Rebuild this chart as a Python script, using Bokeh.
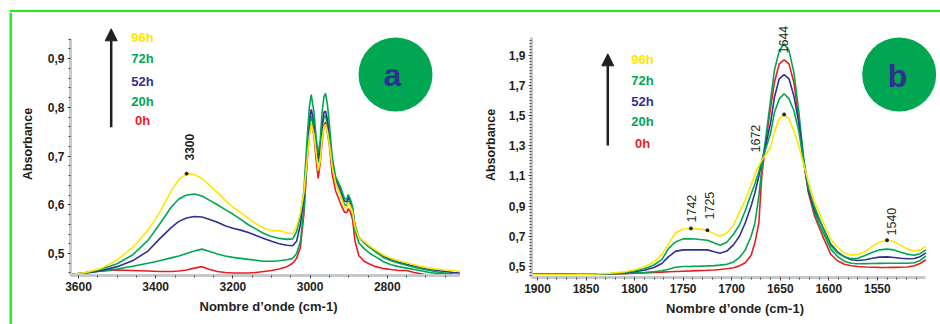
import numpy as np
from bokeh.plotting import figure
from bokeh.layouts import row, column
from bokeh.models import Range1d, FixedTicker, Label, Arrow, NormalHead, CustomJSTickFormatter
from bokeh.embed import file_html
from bokeh.resources import INLINE

# ---------------- data : panel a (3600-2600 cm-1) ----------------
wn_a = [3620, 3580, 3540, 3500, 3460, 3420, 3390, 3360, 3340, 3320, 3300, 3280, 3260, 3240, 3220,
        3200, 3180, 3160, 3140, 3120, 3100, 3080, 3060, 3045, 3035, 3025, 3016, 3008, 3002, 2997,
        2990, 2984, 2979, 2974, 2969, 2964, 2960, 2955, 2950, 2943, 2934, 2921, 2911, 2905, 2901,
        2896, 2890, 2884, 2874, 2860, 2845, 2830, 2810, 2790, 2770, 2750, 2730, 2710, 2690, 2670,
        2650, 2630, 2612]
a_96h = [0.457, 0.461, 0.470, 0.487, 0.512, 0.548, 0.584, 0.628, 0.652, 0.664, 0.662, 0.654, 0.640, 0.625, 0.609,
         0.595, 0.584, 0.572, 0.561, 0.552, 0.547, 0.547, 0.542, 0.541, 0.555, 0.585, 0.625, 0.690, 0.740, 0.765,
         0.745, 0.705, 0.670, 0.690, 0.735, 0.760, 0.765, 0.750, 0.725, 0.680, 0.645, 0.618, 0.595, 0.592, 0.605,
         0.598, 0.585, 0.555, 0.533, 0.525, 0.515, 0.507, 0.497, 0.490, 0.485, 0.481, 0.477, 0.473, 0.470, 0.468,
         0.466, 0.465, 0.463]
a_72h = [0.457, 0.461, 0.468, 0.479, 0.497, 0.527, 0.560, 0.595, 0.612, 0.620, 0.622, 0.618, 0.609, 0.600, 0.590,
         0.581, 0.570, 0.559, 0.550, 0.541, 0.535, 0.531, 0.529, 0.530, 0.545, 0.578, 0.630, 0.732, 0.800, 0.826,
         0.790, 0.735, 0.705, 0.730, 0.790, 0.822, 0.829, 0.805, 0.765, 0.700, 0.658, 0.636, 0.613, 0.612, 0.621,
         0.612, 0.596, 0.560, 0.534, 0.522, 0.512, 0.503, 0.492, 0.485, 0.480, 0.476, 0.472, 0.468, 0.465, 0.462,
         0.460, 0.458, 0.457]
a_52h = [0.457, 0.460, 0.465, 0.473, 0.485, 0.505, 0.530, 0.553, 0.566, 0.573, 0.576, 0.575, 0.570, 0.564, 0.557,
         0.552, 0.548, 0.543, 0.537, 0.531, 0.525, 0.520, 0.517, 0.516, 0.525, 0.560, 0.615, 0.712, 0.775, 0.796,
         0.770, 0.722, 0.695, 0.715, 0.765, 0.790, 0.792, 0.775, 0.745, 0.690, 0.652, 0.630, 0.608, 0.606, 0.616,
         0.607, 0.592, 0.557, 0.533, 0.523, 0.513, 0.505, 0.494, 0.487, 0.482, 0.478, 0.474, 0.470, 0.467, 0.465,
         0.463, 0.461, 0.460]
a_20h = [0.457, 0.460, 0.464, 0.468, 0.474, 0.480, 0.485, 0.491, 0.495, 0.500, 0.505, 0.509, 0.504, 0.499, 0.495,
         0.492, 0.490, 0.488, 0.486, 0.484, 0.484, 0.485, 0.487, 0.490, 0.500, 0.525, 0.590, 0.700, 0.760, 0.783,
         0.755, 0.710, 0.687, 0.705, 0.755, 0.780, 0.783, 0.765, 0.735, 0.683, 0.645, 0.622, 0.600, 0.598, 0.608,
         0.600, 0.585, 0.548, 0.522, 0.510, 0.500, 0.493, 0.483, 0.477, 0.473, 0.470, 0.467, 0.464, 0.461, 0.459,
         0.458, 0.457, 0.456]
a_0h = [0.457, 0.461, 0.464, 0.466, 0.465, 0.464, 0.463, 0.463, 0.464, 0.466, 0.470, 0.473, 0.467, 0.463, 0.461,
        0.460, 0.460, 0.460, 0.461, 0.463, 0.465, 0.468, 0.473, 0.480, 0.490, 0.513, 0.582, 0.684, 0.745, 0.766,
        0.742, 0.690, 0.654, 0.685, 0.729, 0.762, 0.770, 0.748, 0.722, 0.664, 0.629, 0.602, 0.585, 0.584, 0.592,
        0.586, 0.570, 0.527, 0.496, 0.484, 0.478, 0.473, 0.469, 0.467, 0.465, 0.465, 0.461, 0.458, 0.455, 0.452,
        0.450, 0.448, 0.447]

# ---------------- data : panel b (1900-1500 cm-1) ----------------
wn_b = [1906, 1880, 1860, 1840, 1825, 1810, 1800, 1790, 1780, 1772, 1765, 1758, 1750, 1742, 1735,
        1725, 1718, 1712, 1705, 1698, 1692, 1686, 1680, 1676, 1672, 1669, 1665, 1660, 1656, 1651,
        1646, 1641, 1636, 1631, 1626, 1621, 1615, 1610, 1605, 1598, 1591, 1584, 1577, 1570, 1562,
        1555, 1548, 1540, 1533, 1526, 1519, 1512, 1506, 1500]
b_96h = [0.447, 0.447, 0.448, 0.450, 0.455, 0.465, 0.478, 0.498, 0.530, 0.580, 0.650, 0.722, 0.748, 0.752, 0.749,
         0.740, 0.716, 0.700, 0.722, 0.775, 0.860, 0.940, 1.040, 1.110, 1.170, 1.205, 1.240, 1.290, 1.390, 1.478,
         1.507, 1.478, 1.400, 1.300, 1.180, 1.060, 0.930, 0.860, 0.780, 0.681, 0.626, 0.590, 0.575, 0.580, 0.600,
         0.635, 0.660, 0.674, 0.665, 0.640, 0.615, 0.603, 0.610, 0.635]
b_72h = [0.449, 0.449, 0.449, 0.450, 0.453, 0.460, 0.470, 0.485, 0.510, 0.545, 0.620, 0.662, 0.683, 0.684, 0.680,
         0.674, 0.656, 0.641, 0.660, 0.715, 0.775, 0.870, 0.980, 1.050, 1.130, 1.200, 1.280, 1.380, 1.520, 1.610,
         1.644, 1.610, 1.533, 1.400, 1.200, 1.020, 0.900, 0.820, 0.740, 0.640, 0.590, 0.565, 0.552, 0.555, 0.575,
         0.595, 0.610, 0.615, 0.610, 0.595, 0.582, 0.575, 0.585, 0.610]
b_52h = [0.449, 0.449, 0.449, 0.450, 0.452, 0.457, 0.465, 0.475, 0.493, 0.520, 0.565, 0.600, 0.610, 0.611, 0.610,
         0.610, 0.598, 0.588, 0.602, 0.645, 0.700, 0.790, 0.900, 0.990, 1.100, 1.200, 1.300, 1.450, 1.621, 1.743,
         1.770, 1.743, 1.630, 1.456, 1.200, 1.000, 0.880, 0.810, 0.745, 0.648, 0.597, 0.565, 0.545, 0.540, 0.545,
         0.555, 0.562, 0.564, 0.560, 0.555, 0.551, 0.553, 0.565, 0.590]
b_20h = [0.449, 0.449, 0.449, 0.450, 0.452, 0.454, 0.457, 0.460, 0.465, 0.472, 0.482, 0.495, 0.500, 0.501, 0.502,
         0.504, 0.506, 0.509, 0.515, 0.530, 0.560, 0.610, 0.700, 0.790, 0.968, 1.150, 1.350, 1.600, 1.800, 1.930,
         1.975, 1.930, 1.787, 1.533, 1.224, 1.010, 0.860, 0.780, 0.714, 0.615, 0.566, 0.535, 0.522, 0.518, 0.519,
         0.520, 0.521, 0.522, 0.522, 0.522, 0.522, 0.525, 0.540, 0.570]
b_0h = [0.451, 0.451, 0.450, 0.450, 0.451, 0.453, 0.455, 0.458, 0.461, 0.463, 0.465, 0.467, 0.469, 0.471, 0.473,
        0.475, 0.477, 0.480, 0.485, 0.492, 0.505, 0.525, 0.575, 0.660, 0.791, 1.100, 1.320, 1.550, 1.720, 1.842,
        1.869, 1.842, 1.720, 1.489, 1.200, 0.990, 0.840, 0.760, 0.681, 0.581, 0.538, 0.515, 0.505, 0.500, 0.497,
        0.495, 0.494, 0.493, 0.494, 0.495, 0.497, 0.505, 0.520, 0.545]

series_names = ["96h", "72h", "52h", "20h", "0h"]
a_ticks_x = [3600, 3400, 3200, 3000, 2800]
a_ticks_y = [0.5, 0.6, 0.7, 0.8, 0.9]
b_ticks_x = [1900, 1850, 1800, 1750, 1700, 1650, 1600, 1550]
b_ticks_y = [0.5, 0.7, 0.9, 1.1, 1.3, 1.5, 1.7, 1.9]
a_marks = ["3300"]
a_mark_wn = [3320]
b_marks = ["1742", "1725", "1672", "1644", "1540"]
b_dot_wn = [1742, 1725, 1646, 1540]

# ---------------- style ----------------
FONT = "Liberation Sans"
INK = "#231F20"
C_Y, C_G, C_B, C_R = "#FFE600", "#00A651", "#2E3192", "#ED1C24"
LIME = "#1EF01E"
colors = [C_Y, C_G, C_B, C_G, C_R]

# canvas-pixel -> data helpers (layout geometry)
def ax(cx): return 3600 - (cx - 78) / 0.386
def ay(cy): return 0.5 + (253 - cy) / 487
def bx(cx): return 1900 - (cx - 537) / 0.971
def by(cy): return 0.5 + (266 - cy) / 151

fmt = CustomJSTickFormatter(code="return tick.toFixed(1).replace('.', ',');")

def style_axes(p, y_standoff):
    for a in [p.xaxis[0], p.yaxis[0]]:
        a.axis_line_color = "#C5C9CD"
        a.axis_line_width = 3
        a.major_tick_line_color = "#444444"
        a.minor_tick_line_color = "#444444"
        a.major_tick_in = 0
        a.major_tick_out = 3
        a.minor_tick_in = 0
        a.minor_tick_out = 2
        a.major_label_text_font = FONT
        a.major_label_text_font_size = "12px"
        a.major_label_text_font_style = "bold"
        a.major_label_text_color = INK
        a.major_label_standoff = 3
        a.axis_label_text_font = FONT
        a.axis_label_text_font_style = "bold"
        a.axis_label_text_color = INK
    p.xaxis.axis_label = "Nombre d\u2019onde (cm-1)"
    p.xaxis.axis_label_text_font_size = "13px"
    p.xaxis.axis_label_standoff = 5
    p.yaxis.axis_label = "Absorbance"
    p.yaxis.axis_label_text_font_size = "12.5px"
    p.yaxis.axis_label_standoff = y_standoff
    p.yaxis.formatter = fmt
    p.grid.visible = False
    p.outline_line_color = None

# ---------------- panel a ----------------
pa = figure(width=458, height=312, title=None, toolbar_location=None, output_backend="svg",
            x_range=Range1d(ax(70), ax(466)), y_range=Range1d(ay(275), ay(12)),
            min_border_left=58, min_border_right=4, min_border_top=0, min_border_bottom=49)
pa.frame_align = False
style_axes(pa, 10)
pa.xaxis.ticker = FixedTicker(ticks=a_ticks_x, minor_ticks=list(range(3600, 2600, -50)))
pa.yaxis.ticker = FixedTicker(ticks=a_ticks_y, minor_ticks=[round(v, 2) for v in np.arange(0.46, 0.95, 0.02)])
pa.xaxis.bounds = (ax(70), ax(459))
pa.yaxis.bounds = (ay(275), ay(38))

for ys, c in reversed(list(zip([a_96h, a_72h, a_52h, a_20h, a_0h], colors))):
    pa.line(wn_a, ys, line_color=c, line_width=1.6)
i = wn_a.index(a_mark_wn[0])
pa.scatter([wn_a[i]], [a_96h[i]], size=3, color=INK)
pa.add_layout(Label(x=ax(189), y=ay(160), text=a_marks[0], angle=np.pi / 2, text_font=FONT,
                    text_font_style="bold", text_font_size="12px", text_color=INK,
                    text_align="left", text_baseline="middle"))
# decorations
pa.scatter([ax(395)], [ay(74)], size=74, fill_color=C_G, line_color=None)
pa.add_layout(Label(x=ax(392), y=ay(74), text="a", text_font=FONT, text_font_style="bold",
                    text_font_size="32px", text_color=C_B, text_align="center", text_baseline="middle"))
pa.add_layout(Arrow(end=NormalHead(size=12, fill_color=INK, line_color=INK), x_start=ax(110.7), y_start=ay(126.7),
                    x_end=ax(110.7), y_end=ay(28.3), line_color=INK, line_width=2.5))
for name, c, cy in zip(series_names, colors, [37, 58, 81, 101, 120]):
    pa.add_layout(Label(x=ax(142), y=ay(cy), text=name, text_font=FONT, text_font_style="bold",
                        text_font_size="13px", text_color=c, text_align="center", text_baseline="middle"))

# ---------------- panel b ----------------
pb = figure(width=470, height=312, title=None, toolbar_location=None, output_backend="svg",
            x_range=Range1d(bx(531), bx(938)), y_range=Range1d(by(277), by(12)),
            min_border_left=61, min_border_right=2, min_border_top=0, min_border_bottom=47)
pb.frame_align = False
style_axes(pb, 8)
pb.xaxis.ticker = FixedTicker(ticks=b_ticks_x, minor_ticks=list(range(1900, 1500, -10)))
pb.yaxis.ticker = FixedTicker(ticks=b_ticks_y, minor_ticks=[round(v, 2) for v in np.arange(0.44, 2.01, 0.02)])
pb.xaxis.bounds = (bx(531), bx(925))
pb.yaxis.bounds = (by(277), by(37))

for ys, c in reversed(list(zip([b_96h, b_72h, b_52h, b_20h, b_0h], colors))):
    pb.line(wn_b, ys, line_color=c, line_width=1.6)
idx = [wn_b.index(w) for w in b_dot_wn]
pb.scatter([wn_b[k] for k in idx], [b_96h[k] for k in idx], size=3, color=INK)
for t, cx, cy in zip(b_marks, [690.7, 709, 755, 783, 890.7], [222, 219, 152, 53, 235]):
    pb.add_layout(Label(x=bx(cx), y=by(cy), text=t, angle=np.pi / 2, text_font=FONT,
                        text_font_size="12.5px", text_color=INK, text_align="left", text_baseline="middle"))
pb.scatter([bx(898.7)], [by(74)], size=74, fill_color=C_G, line_color=None)
pb.add_layout(Label(x=bx(897), y=by(75), text="b", text_font=FONT, text_font_style="bold",
                    text_font_size="32px", text_color=C_B, text_align="center", text_baseline="middle"))
pb.add_layout(Arrow(end=NormalHead(size=12, fill_color=INK, line_color=INK), x_start=bx(607.3), y_start=by(145),
                    x_end=bx(607.3), y_end=by(53.3), line_color=INK, line_width=2.5))
for name, c, cy in zip(series_names, colors, [59.3, 80, 100.7, 120.7, 142.7]):
    pb.add_layout(Label(x=bx(642), y=by(cy), text=name, text_font=FONT, text_font_style="bold",
                        text_font_size="13px", text_color=c, text_align="center", text_baseline="middle"))

# ---------------- lime frame strips ----------------
top = figure(width=940, height=12, title=None, toolbar_location=None, output_backend="svg",
             x_range=Range1d(0, 940), y_range=Range1d(0, 12), x_axis_type=None, y_axis_type=None,
             min_border=0)
top.frame_align = False
top.quad(left=9, right=940, bottom=0, top=2.6, fill_color=LIME, line_color=None)
top.outline_line_color = None
top.grid.visible = False
left = figure(width=12, height=312, title=None, toolbar_location=None, output_backend="svg",
              x_range=Range1d(0, 12), y_range=Range1d(0, 312), x_axis_type=None, y_axis_type=None,
              min_border=0)
left.frame_align = False
left.quad(left=9, right=12, bottom=0, top=312, fill_color=LIME, line_color=None)
left.outline_line_color = None
left.grid.visible = False

layout = column(top, row(left, pa, pb, spacing=0), spacing=0)
open("out.html", "w").write(file_html(layout, INLINE))
